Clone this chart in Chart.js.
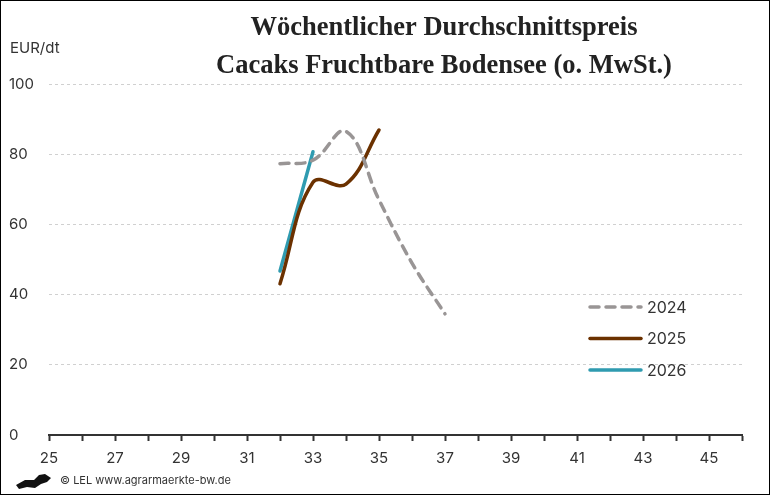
<!DOCTYPE html>
<html>
<head>
<meta charset="utf-8">
<script src="https://cdn.jsdelivr.net/npm/chart.js@4.4.1/dist/chart.umd.min.js"></script>
<style>
  html, body { margin: 0; padding: 0; background: #fff; }
  #wrap { width: 768px; height: 493px; border: 1px solid #000; }
</style>
</head>
<body>
<div id="wrap"><canvas id="chart" width="768" height="493"></canvas></div>
<script>
// values
const weeks2024 = [32, 33, 34, 35, 36, 37];
const prices2024 = [77.3, 78.3, 86.5, 67, 49, 34.5];
const weeks2025 = [32, 33, 34, 35];
const prices2025 = [43.1, 72, 71.5, 86.9];
const weeks2026 = [32, 33];
const prices2026 = [46.7, 80.7];
const yearLabels = ['2024', '2025', '2026'];

const TEXT = '#333';
const SANS = 'Inter, "Noto Sans", sans-serif';

const points = (xs, ys) => xs.map((x, i) => ({ x, y: ys[i] }));

// title, unit and footer
const decorPlugin = {
    id: 'decor',
    afterDraw(chart) {
        const ctx = chart.ctx;
        ctx.save();
        ctx.fillStyle = '#222';
        ctx.textAlign = 'center';
        ctx.textBaseline = 'middle';
        ctx.font = 'bold 26.5px "Liberation Serif", serif';
        ctx.fillText('Wöchentlicher Durchschnittspreis', 443, 27);
        ctx.fillText('Cacaks Fruchtbare Bodensee (o. MwSt.)', 443, 65);

        ctx.fillStyle = TEXT;
        ctx.textAlign = 'left';
        ctx.font = '15px ' + SANS;
        ctx.fillText('EUR/dt', 9, 47);

        ctx.font = '11px ' + SANS;
        ctx.fillText('© LEL www.agrarmaerkte-bw.de', 59, 480);

        // little lion mark
        ctx.fillStyle = '#111';
        ctx.beginPath();
        ctx.moveTo(15, 484);
        ctx.lineTo(24, 479);
        ctx.lineTo(33, 479);
        ctx.lineTo(38, 474);
        ctx.lineTo(44, 473);
        ctx.lineTo(50, 477);
        ctx.lineTo(46, 481);
        ctx.lineTo(40, 483);
        ctx.lineTo(34, 487);
        ctx.lineTo(26, 486);
        ctx.lineTo(18, 488);
        ctx.closePath();
        ctx.fill();
        ctx.restore();
    }
};

// legend drawn inside the plot, at the lower right
const legendPlugin = {
    id: 'insideLegend',
    afterDraw(chart) {
        const ctx = chart.ctx;
        ctx.save();
        chart.data.datasets.forEach((ds, i) => {
            const y = 306 + i * 31.5;
            ctx.strokeStyle = ds.borderColor;
            ctx.lineWidth = ds.borderWidth;
            ctx.lineCap = 'round';
            ctx.setLineDash(ds.borderDash || []);
            ctx.beginPath();
            ctx.moveTo(589, y);
            ctx.lineTo(640, y);
            ctx.stroke();
            ctx.setLineDash([]);
            ctx.fillStyle = TEXT;
            ctx.font = '16px ' + SANS;
            ctx.textAlign = 'left';
            ctx.textBaseline = 'middle';
            ctx.fillText(ds.label, 646, y + 1);
        });
        ctx.restore();
    }
};

new Chart(document.getElementById('chart'), {
    type: 'line',
    data: {
        datasets: [
            {
                label: yearLabels[0],
                data: points(weeks2024, prices2024),
                borderColor: '#999595',
                borderWidth: 3.5,
                borderDash: [9, 7],
                borderCapStyle: 'round'
            },
            {
                label: yearLabels[1],
                data: points(weeks2025, prices2025),
                borderColor: '#6b3100',
                borderWidth: 3.5,
                borderCapStyle: 'round'
            },
            {
                label: yearLabels[2],
                data: points(weeks2026, prices2026),
                borderColor: '#2f9bb0',
                borderWidth: 3.5,
                borderCapStyle: 'round'
            }
        ]
    },
    options: {
        responsive: false,
        animation: false,
        events: [],
        elements: {
            point: { radius: 0 },
            line: { tension: 0.4, fill: false }
        },
        layout: { padding: { left: 8, right: 27, top: 83, bottom: 24 } },
        plugins: {
            legend: { display: false },
            title: { display: false },
            tooltip: { enabled: false }
        },
        scales: {
            x: {
                type: 'linear',
                min: 25,
                max: 46,
                afterFit: (scale) => { scale.height = 35; },
                border: { color: '#333', width: 2 },
                grid: {
                    drawOnChartArea: false,
                    drawTicks: true,
                    tickLength: 6,
                    tickWidth: 2,
                    tickColor: '#333'
                },
                ticks: {
                    stepSize: 1,
                    autoSkip: false,
                    maxRotation: 0,
                    padding: 8,
                    color: TEXT,
                    font: { family: SANS, size: 15 },
                    callback: (v) => (v % 2 === 1 ? String(v) : '')
                }
            },
            y: {
                min: 0,
                max: 100,
                afterFit: (scale) => { scale.width = 40; },
                // in v4 the grid line dash lives under border
                border: { display: false, dash: [3, 3] },
                grid: {
                    color: '#d0d0d0',
                    lineWidth: 1,
                    drawTicks: false
                },
                ticks: {
                    stepSize: 20,
                    crossAlign: 'far',
                    padding: 6,
                    color: TEXT,
                    font: { family: SANS, size: 15 }
                }
            }
        }
    },
    plugins: [decorPlugin, legendPlugin]
});
</script>
</body>
</html>
